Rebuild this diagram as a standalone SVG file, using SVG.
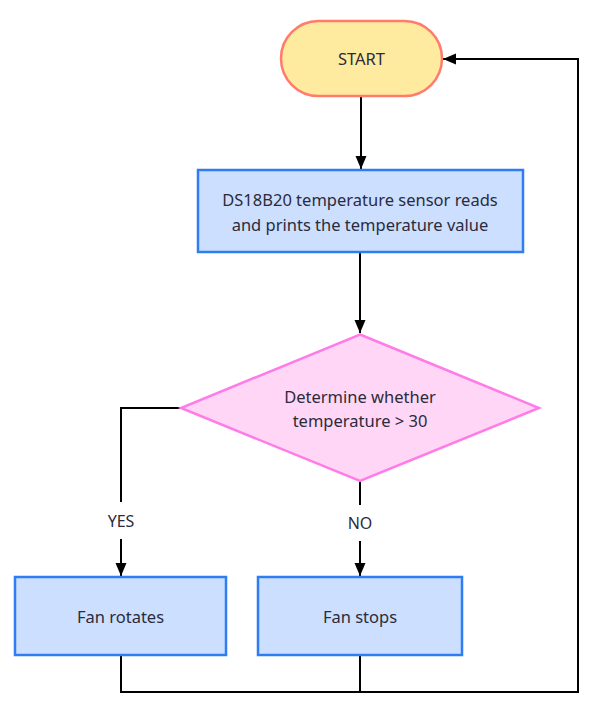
<svg xmlns="http://www.w3.org/2000/svg" width="606" height="723" viewBox="0 0 606 723">
<defs>
<style>
.t{font-family:"Noto Sans","Liberation Sans",sans-serif;font-size:16.5px;fill:#2b2b3b;text-anchor:middle;dominant-baseline:central}
.lbl{font-family:"Noto Sans","Liberation Sans",sans-serif;font-size:16px;fill:#2b2b3b;text-anchor:middle;dominant-baseline:central}
.box{fill:#ccdfff;stroke:#2f7df3;stroke-width:2.5}
.c{fill:none;stroke:#000;stroke-width:2}
</style>
<marker id="ah" viewBox="0 0 13 12" refX="13" refY="6" markerWidth="13" markerHeight="12" markerUnits="userSpaceOnUse" orient="auto">
<path d="M0,0.5 L13,6 L0,11.5 Z" fill="#000"/>
</marker>
</defs>
<rect width="606" height="723" fill="#fff"/>
<g id="connectors">
<path class="c" d="M361,96 L361,169" marker-end="url(#ah)"/>
<path class="c" d="M360,252 L360,333" marker-end="url(#ah)"/>
<path class="c" d="M181,408 L121,408 L121,502"/>
<path class="c" d="M121,539 L121,576" marker-end="url(#ah)"/>
<path class="c" d="M360,481 L360,505"/>
<path class="c" d="M360,541 L360,576" marker-end="url(#ah)"/>
<path class="c" d="M121,655 L121,692 L360,692"/>
<path class="c" d="M360,655 L360,692 L578,692 L578,59 L443,59" marker-end="url(#ah)"/>
<text class="lbl" x="121" y="521">YES</text>
<text class="lbl" x="360" y="523">NO</text>
</g>
<g id="start">
<rect x="281" y="21" width="161" height="75" rx="37.5" ry="37.5" fill="#ffeba0" stroke="#ff7b6b" stroke-width="2.5"/>
<text class="t" x="361.5" y="58.5">START</text>
</g>
<g id="read">
<rect class="box" x="198" y="170" width="325" height="82"/>
<text class="t" x="360" y="199">DS18B20 temperature sensor reads</text>
<text class="t" x="360" y="224">and prints the temperature value</text>
</g>
<g id="decision">
<path d="M360,334.5 L539,408 L360,481 L181,408 Z" fill="#ffd6f6" stroke="#ff7be7" stroke-width="2.5"/>
<text class="t" x="360" y="396">Determine whether</text>
<text class="t" x="360" y="420">temperature &gt; 30</text>
</g>
<g id="fan-rotates">
<rect class="box" x="15" y="577" width="211" height="78"/>
<text class="t" x="120.5" y="616">Fan rotates</text>
</g>
<g id="fan-stops">
<rect class="box" x="258" y="577" width="204" height="78"/>
<text class="t" x="360" y="616">Fan stops</text>
</g>
</svg>
